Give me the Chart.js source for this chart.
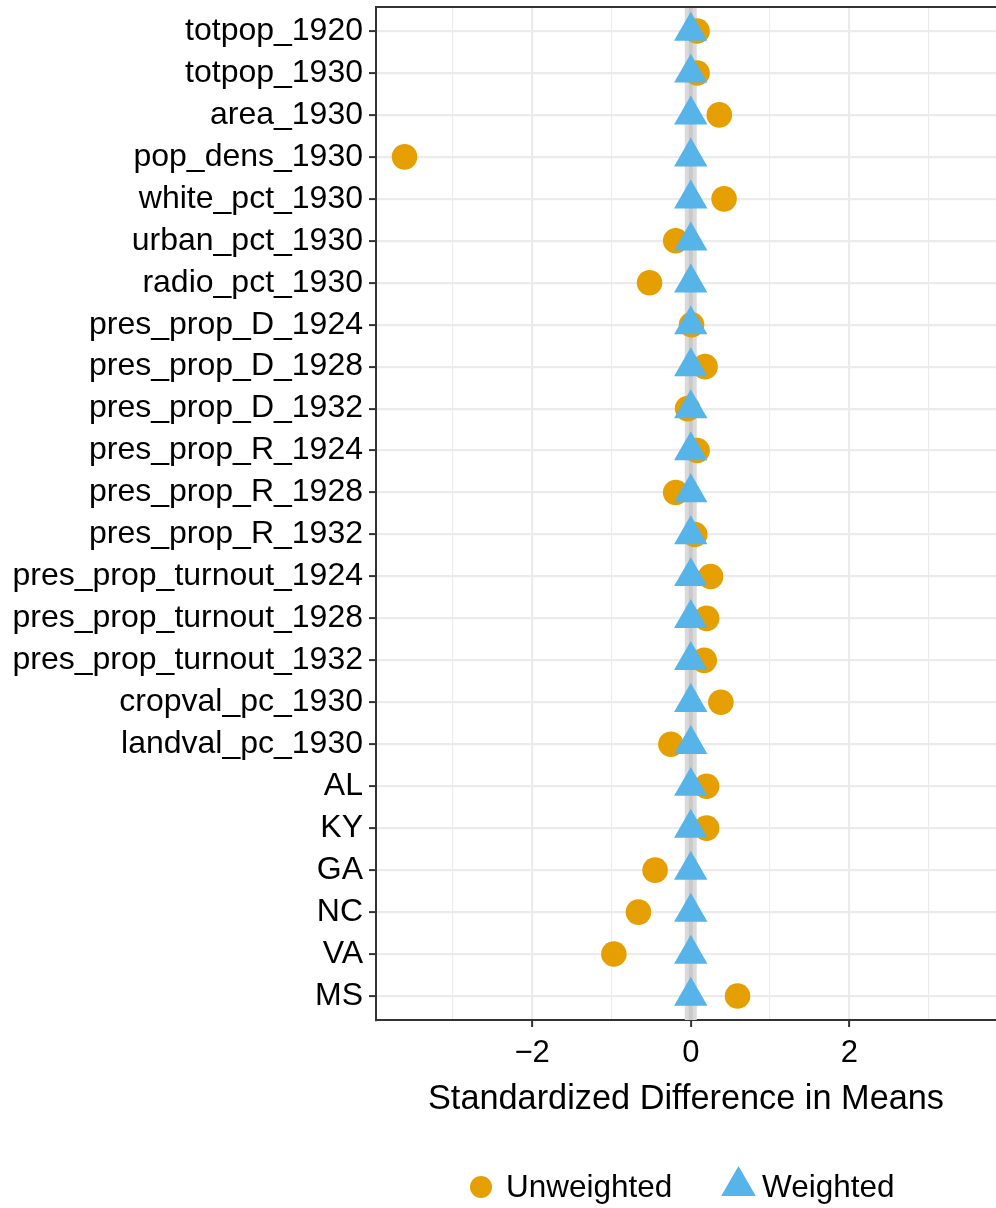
<!DOCTYPE html>
<html>
<head>
<meta charset="utf-8">
<script src="https://cdn.jsdelivr.net/npm/chart.js@4.4.1/dist/chart.umd.min.js"></script>
<style>
  html, body { margin: 0; padding: 0; background: #ffffff; overflow: hidden; }
  canvas { display: block; }
</style>
</head>
<body>
<canvas id="balance" width="996" height="1208"></canvas>
<script>
// Covariates, listed top to bottom
const categories = [
  'totpop_1920', 'totpop_1930', 'area_1930', 'pop_dens_1930', 'white_pct_1930',
  'urban_pct_1930', 'radio_pct_1930', 'pres_prop_D_1924', 'pres_prop_D_1928',
  'pres_prop_D_1932', 'pres_prop_R_1924', 'pres_prop_R_1928', 'pres_prop_R_1932',
  'pres_prop_turnout_1924', 'pres_prop_turnout_1928', 'pres_prop_turnout_1932',
  'cropval_pc_1930', 'landval_pc_1930', 'AL', 'KY', 'GA', 'NC', 'VA', 'MS'
];

// Standardized difference in means before weighting
const unweighted = [
  0.08, 0.08, 0.36, -3.61, 0.42,
  -0.19, -0.52, 0.01, 0.18,
  -0.04, 0.08, -0.19, 0.05,
  0.25, 0.20, 0.17,
  0.38, -0.25, 0.20, 0.20, -0.45, -0.66, -0.97, 0.59
];

// Standardized difference in means after weighting
const weighted = [
  0, 0, 0, 0, 0,
  0, 0, 0, 0,
  0, 0, 0, 0,
  0, 0, 0,
  0, 0, 0, 0, 0, 0, 0, 0
];

// x axis: gridline positions and the labelled (major) ticks
const xGridValues = [-3, -2, -1, 0, 1, 2, 3];
const xMajorTicks = [-2, 0, 2];
const xMajorLabels = ['\u22122', '0', '2'];

const seriesNames = ['Unweighted', 'Weighted'];
const seriesColors = ['#E69F00', '#56B4E9'];

const FONT = "'Liberation Sans', Arial, Helvetica, sans-serif";
Chart.defaults.font.family = FONT;
Chart.defaults.color = '#000000';

const toPoints = vals => vals.map((v, i) => ({ x: v, y: i + 1 }));

// Keep the panel flush with the canvas edges: no extra room for overhanging labels
function noScalePadding(scale) {
  scale.paddingTop = 0;
  scale.paddingBottom = 0;
  scale.paddingLeft = 0;
  scale.paddingRight = 0;
}

// Gray reference band at zero
const zeroBand = {
  id: 'zeroBand',
  beforeDatasetsDraw(chart) {
    const { ctx, chartArea, scales } = chart;
    const x0 = scales.x.getPixelForValue(0);
    ctx.save();
    ctx.fillStyle = '#DADADA';
    ctx.fillRect(x0 - 6, chartArea.top, 12, chartArea.bottom - chartArea.top);
    ctx.fillStyle = '#C9C9C9';
    ctx.fillRect(x0 - 2, chartArea.top, 4, chartArea.bottom - chartArea.top);
    ctx.restore();
  }
};

// Top edge of the panel frame
const panelTop = {
  id: 'panelTop',
  afterDraw(chart) {
    const { ctx, chartArea } = chart;
    ctx.save();
    ctx.strokeStyle = '#333333';
    ctx.lineWidth = 2;
    ctx.beginPath();
    ctx.moveTo(chartArea.left - 1, chartArea.top);
    ctx.lineTo(chartArea.right + 1, chartArea.top);
    ctx.stroke();
    ctx.restore();
  }
};

// Legend below the axis title, keyed with each dataset's own marker
const bottomLegend = {
  id: 'bottomLegend',
  afterDraw(chart) {
    const { ctx } = chart;
    const y = 1187;
    const keys = [
      { cx: 481, tx: 506, radius: 11 },
      { cx: 738.5, tx: 762, radius: 20 }
    ];
    ctx.save();
    chart.data.datasets.forEach((ds, i) => {
      const k = keys[i];
      ctx.fillStyle = ds.backgroundColor;
      const cy = ds.pointStyle === 'triangle' ? y - 1 : y;
      Chart.helpers.drawPoint(ctx, { pointStyle: ds.pointStyle, radius: k.radius, rotation: 0, borderWidth: 0 }, k.cx, cy);
      ctx.fillStyle = '#000000';
      ctx.font = '31.5px ' + FONT;
      ctx.textAlign = 'left';
      ctx.textBaseline = 'middle';
      ctx.fillText(ds.label, k.tx, y + 1);
    });
    ctx.restore();
  }
};

new Chart(document.getElementById('balance'), {
  type: 'scatter',
  data: {
    datasets: [
      {
        label: seriesNames[0],
        data: toPoints(unweighted),
        backgroundColor: seriesColors[0],
        pointStyle: 'circle',
        pointRadius: 12.8,
        pointHoverRadius: 12.8,
        borderWidth: 0,
        order: 2,
        clip: false
      },
      {
        label: seriesNames[1],
        data: toPoints(weighted),
        backgroundColor: seriesColors[1],
        pointStyle: 'triangle',
        pointRadius: 19.3,
        pointHoverRadius: 19.3,
        borderWidth: 0,
        order: 1,
        clip: false
      }
    ]
  },
  options: {
    responsive: false,
    animation: false,
    devicePixelRatio: 1,
    layout: { autoPadding: false, padding: { top: 7, right: 0, bottom: 80, left: 0 } },
    plugins: {
      legend: { display: false },
      tooltip: { enabled: false }
    },
    scales: {
      x: {
        type: 'linear',
        position: 'bottom',
        min: -3.97,
        max: 3.85,
        afterBuildTicks(scale) {
          scale.ticks = xGridValues.map(v => ({ value: v }));
        },
        afterFit(scale) {
          scale.height = 108;
          noScalePadding(scale);
        },
        ticks: {
          autoSkip: false,
          maxRotation: 0,
          padding: 8,
          font: { size: 31 },
          color: '#000000',
          callback(v) {
            const i = xMajorTicks.indexOf(v);
            return i >= 0 ? xMajorLabels[i] : '';
          }
        },
        grid: {
          color: '#EBEBEB',
          lineWidth: c => (xMajorTicks.includes(c.tick && c.tick.value) ? 2.2 : 1.1),
          tickColor: c => (xMajorTicks.includes(c.tick && c.tick.value) ? '#333333' : 'rgba(0,0,0,0)'),
          tickLength: 7,
          tickWidth: 2
        },
        border: { display: true, color: '#333333', width: 2 },
        title: {
          display: true,
          text: 'Standardized Difference in Means',
          font: { size: 34.3 },
          color: '#000000',
          padding: { top: 0, bottom: 8 }
        }
      },
      y: {
        type: 'linear',
        reverse: true,
        min: 0.428,
        max: categories.length + 0.572,
        afterBuildTicks(scale) {
          scale.ticks = categories.map((_, i) => ({ value: i + 1 }));
        },
        afterFit(scale) {
          scale.width = 376;
          noScalePadding(scale);
        },
        ticks: {
          autoSkip: false,
          padding: 6,
          font: { size: 32 },
          color: '#000000',
          callback(v) { return categories[v - 1]; }
        },
        grid: {
          color: '#EBEBEB',
          lineWidth: 2.2,
          tickColor: '#333333',
          tickLength: 7,
          tickWidth: 2
        },
        border: { display: true, color: '#333333', width: 2 }
      }
    }
  },
  plugins: [zeroBand, panelTop, bottomLegend]
});
</script>
</body>
</html>
